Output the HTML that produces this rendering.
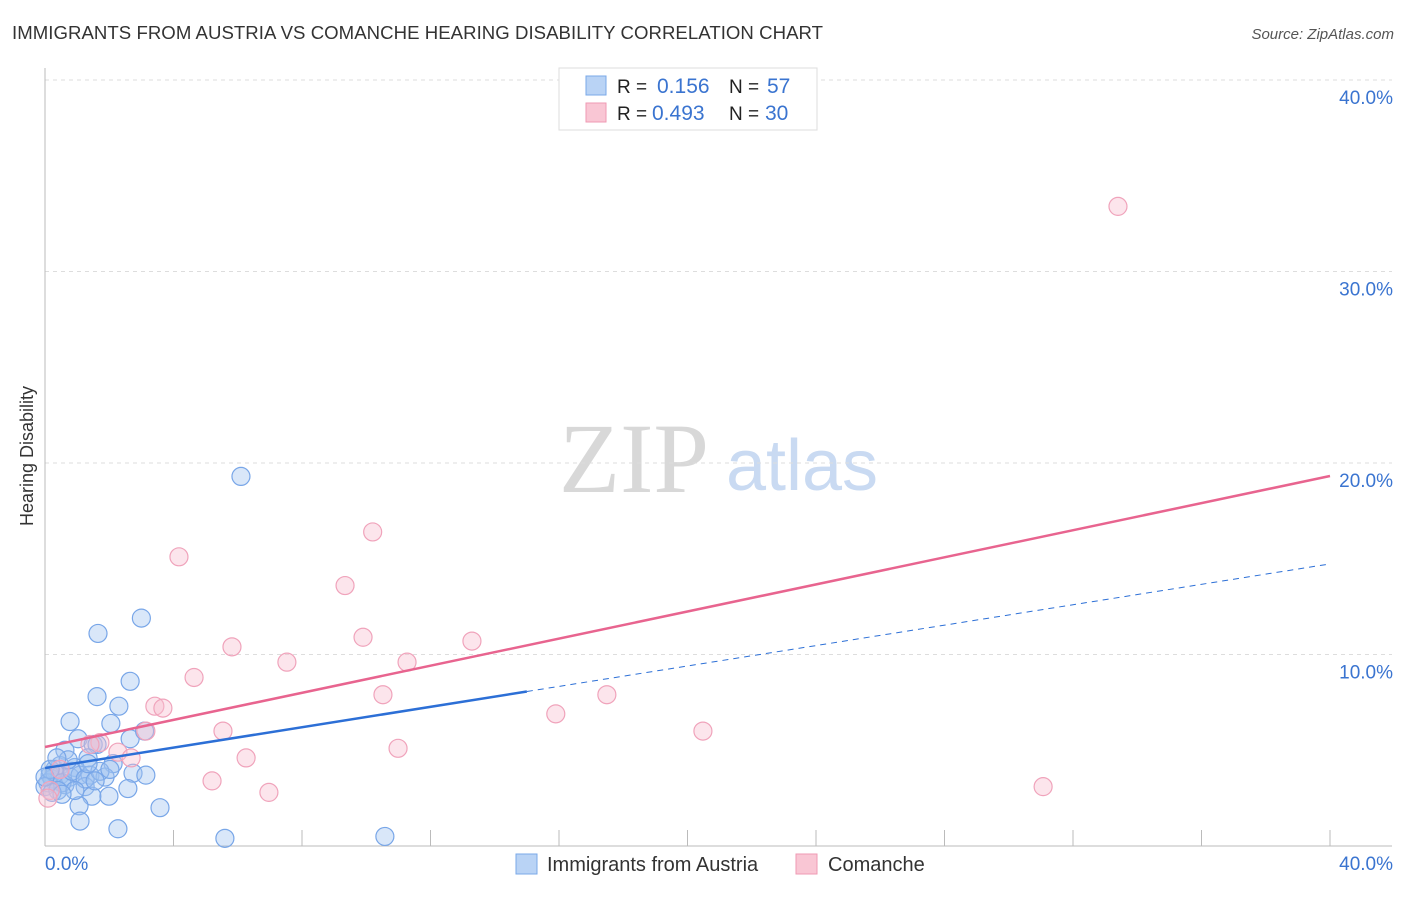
<!DOCTYPE html>
<html><head><meta charset="utf-8"><style>
body{margin:0;background:#fff;font-family:"Liberation Sans",sans-serif}
svg text{font-family:"Liberation Sans",sans-serif}
</style></head><body>
<svg id="c" width="1406" height="892" xmlns="http://www.w3.org/2000/svg">
<text x="12" y="39" font-size="18.6" fill="#333" textLength="811">IMMIGRANTS FROM AUSTRIA VS COMANCHE HEARING DISABILITY CORRELATION CHART</text>
<text x="1394" y="39" font-size="15" fill="#555" font-style="italic" text-anchor="end">Source: ZipAtlas.com</text>
<text x="33" y="456" font-size="18" fill="#333" text-anchor="middle" transform="rotate(-90 33 456)">Hearing Disability</text>
<g><text x="634" y="492" font-size="100" fill="#d8d8d8" font-family="Liberation Serif" style="font-family:'Liberation Serif',serif" text-anchor="middle">ZIP</text><text x="802" y="490" font-size="72" fill="#c9daf2" text-anchor="middle">atlas</text></g>
<g id="grid"></g><g id="marks"></g>
<g>
<rect x="559" y="68" width="258" height="62" fill="#fff" stroke="#ddd"/>
<rect x="586" y="76" width="20" height="19" fill="#b9d3f5" stroke="#7aa8e8"/>
<rect x="586" y="103" width="20" height="19" fill="#f9c6d4" stroke="#ef9ab3"/>
<text x="617" y="93" font-size="19" fill="#222">R = </text><text x="657" y="93" font-size="21" fill="#3a74d0">0.156</text>
<text x="729" y="93" font-size="19" fill="#222">N = </text><text x="767" y="93" font-size="21" fill="#3a74d0">57</text>
<text x="617" y="120" font-size="19" fill="#222">R = </text><text x="652" y="120" font-size="21" fill="#3a74d0">0.493</text>
<text x="729" y="120" font-size="19" fill="#222">N = </text><text x="765" y="120" font-size="21" fill="#3a74d0">30</text>
</g>
<g>
<rect x="516" y="854" width="21" height="20" fill="#b9d3f5" stroke="#7aa8e8"/>
<text x="547" y="871" font-size="20" fill="#333">Immigrants from Austria</text>
<rect x="796" y="854" width="21" height="20" fill="#f9c6d4" stroke="#ef9ab3"/>
<text x="828" y="871" font-size="20" fill="#333">Comanche</text>
</g>
</svg>
<script>
const yTicks=[10,20,30,40];
const yTickLabels=["10.0%","20.0%","30.0%","40.0%"];
const blueX=[6.1,3.0,1.65,2.65,1.62,2.3,0.78,2.05,2.65,3.1,1.03,1.5,1.62,0.62,1.34,2.12,0.47,0.93,0.31,0.16,0.22,0.47,0.78,1.09,1.4,1.87,2.74,3.14,0.62,1.25,1.46,1.99,2.58,3.58,1.06,1.09,2.27,5.6,10.58,0.09,0.31,0.53,0.84,0.0,0.16,0.4,0.72,1.25,1.71,0.93,1.56,0.22,0.53,0.0,1.34,0.37,2.02];
const blueY=[19.3,11.9,11.1,8.6,7.8,7.3,6.5,6.4,5.6,6.0,5.6,5.3,5.3,5.0,4.6,4.3,4.2,4.1,4.0,3.7,3.5,3.7,3.6,3.7,3.7,3.6,3.8,3.7,3.2,3.1,2.6,2.6,3.0,2.0,2.1,1.3,0.9,0.4,0.5,3.3,3.8,3.3,3.9,3.1,4.0,2.9,4.5,3.5,3.9,2.9,3.4,2.8,2.7,3.6,4.3,4.6,4.0];
const pinkX=[33.4,10.2,4.17,9.34,9.9,13.29,5.82,7.53,11.27,4.64,10.52,17.49,15.9,3.42,3.67,3.14,5.54,20.48,10.99,2.27,6.26,2.68,5.2,6.97,31.07,1.71,1.4,0.16,0.09,0.47];
const pinkY=[33.4,16.4,15.1,13.6,10.9,10.7,10.4,9.6,9.6,8.8,7.9,7.9,6.9,7.3,7.2,6.0,6.0,6.0,5.1,4.9,4.6,4.6,3.4,2.8,3.1,5.4,5.3,2.9,2.5,4.0];
const pinkLine=[5.17,19.32];
const blueLine=[4.07,14.73];
const blueSolidEnd=15.0;
const X0=45,X1=1330,Y0=846,PPY=19.15;
const sx=v=>X0+v/40*(X1-X0), sy=v=>Y0-v*PPY;
const NS="http://www.w3.org/2000/svg";
function mk(t,a,p){const e=document.createElementNS(NS,t);for(const k in a)e.setAttribute(k,a[k]);p.appendChild(e);return e;}
const g=document.getElementById('grid'),m=document.getElementById('marks');
yTicks.forEach((t,i)=>{
 const l=mk('line',{x1:X0,x2:1392,y1:sy(t),y2:sy(t),stroke:'#ddd','stroke-dasharray':'4,4'},g);
 
 
 const tx=mk('text',{x:1393,y:sy(t)+24,'font-size':19,fill:'#3a74d0','text-anchor':'end'},g);tx.textContent=yTickLabels[i];
 
 
});
const ax=mk('line',{x1:X0,x2:X0,y1:68,y2:Y0,stroke:'#bbb'},g);


const bx=mk('line',{x1:X0,x2:1392,y1:Y0,y2:Y0,stroke:'#bbb'},g);


for(let i=1;i<=10;i++){const t=mk('line',{x1:sx(i*4),x2:sx(i*4),y1:830,y2:Y0,stroke:'#bbb'},g);
 
 }
[["0.0%",45,'start'],["40.0%",1393,'end']].forEach(d=>{const t=mk('text',{x:d[1],y:870,'font-size':19,fill:'#3a74d0','text-anchor':d[2]},g);t.textContent=d[0];
 
 });
blueX.forEach((x,i)=>{const c=mk('circle',{cx:sx(x),cy:sy(blueY[i]),r:9,fill:'rgba(160,196,240,0.4)',stroke:'#78a6e8','stroke-width':1.2},m);
 
 });
pinkX.forEach((x,i)=>{const c=mk('circle',{cx:sx(x),cy:sy(pinkY[i]),r:9,fill:'rgba(248,190,208,0.4)',stroke:'#f0a3bb','stroke-width':1.2},m);
 
 });
const by=x=>blueLine[0]+(blueLine[1]-blueLine[0])*x/40;
const l1=mk('line',{x1:sx(0),y1:sy(by(0)),x2:sx(blueSolidEnd),y2:sy(by(blueSolidEnd)),stroke:'#2c6fd6','stroke-width':2.5},m);


const l2=mk('line',{x1:sx(blueSolidEnd),y1:sy(by(blueSolidEnd)),x2:sx(40),y2:sy(by(40)),stroke:'#2c6fd6','stroke-width':1,'stroke-dasharray':'6,5'},m);


const l3=mk('line',{x1:sx(0),y1:sy(pinkLine[0]),x2:sx(40),y2:sy(pinkLine[1]),stroke:'#e8648f','stroke-width':2.5},m);


</script>
</body></html>
